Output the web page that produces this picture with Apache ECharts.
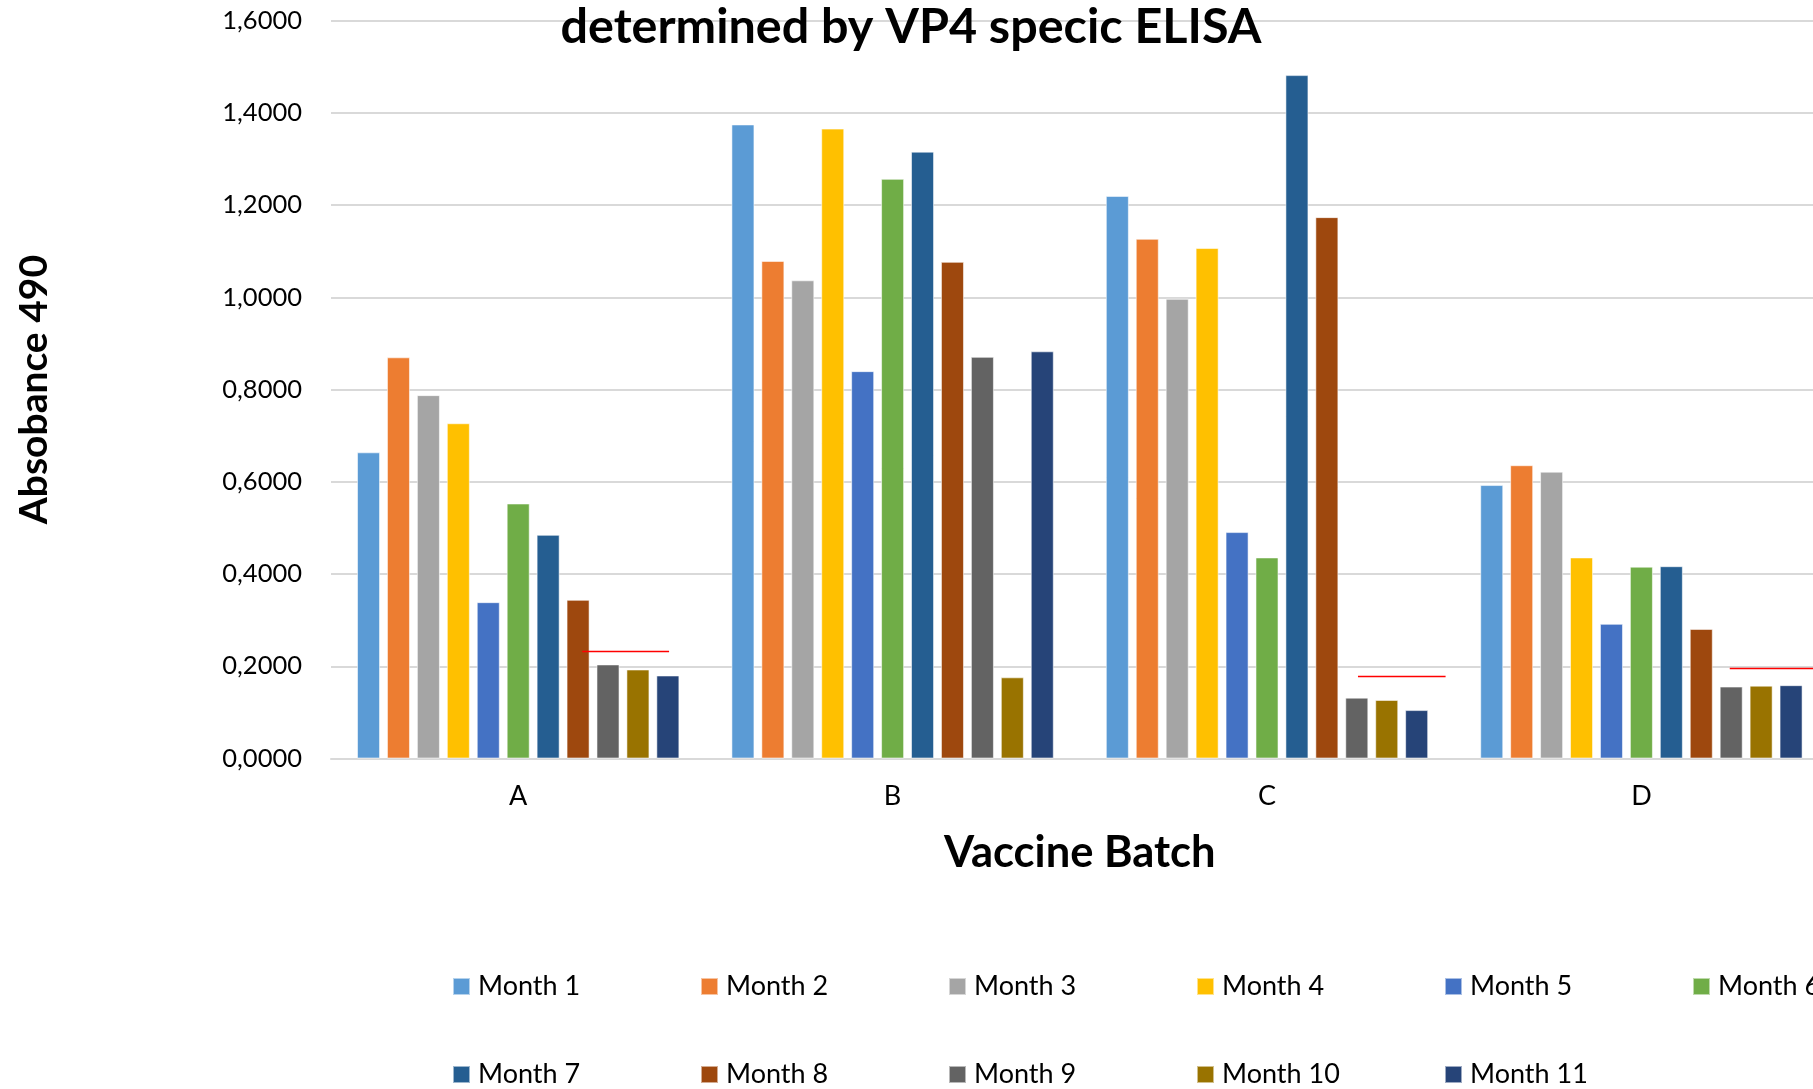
<!DOCTYPE html>
<html>
<head>
<meta charset="utf-8">
<script src="https://cdn.jsdelivr.net/npm/echarts@6/dist/echarts.min.js"></script>
<style>
  html, body { margin: 0; padding: 0; background: #fff; overflow: hidden; }
  #chart { width: 1830px; height: 1089px; }
</style>
</head>
<body>
<div id="chart"></div>
<script>
// Vaccine batches on the x axis
const batches = ['A', 'B', 'C', 'D'];

// Absorbance at 490 nm, one series per month, values per batch A..D
const month1  = [0.664, 1.375, 1.220, 0.593];
const month2  = [0.870, 1.079, 1.127, 0.636];
const month3  = [0.788, 1.037, 0.997, 0.622];
const month4  = [0.727, 1.366, 1.107, 0.436];
const month5  = [0.339, 0.840, 0.491, 0.292];
const month6  = [0.553, 1.257, 0.436, 0.416];
const month7  = [0.485, 1.316, 1.482, 0.417];
const month8  = [0.344, 1.077, 1.174, 0.281];
const month9  = [0.204, 0.871, 0.132, 0.156];
const month10 = [0.193, 0.176, 0.127, 0.158];
const month11 = [0.180, 0.883, 0.105, 0.159];

const seriesNames = ['Month 1', 'Month 2', 'Month 3', 'Month 4', 'Month 5', 'Month 6',
                     'Month 7', 'Month 8', 'Month 9', 'Month 10', 'Month 11'];
const seriesValues = [month1, month2, month3, month4, month5, month6,
                      month7, month8, month9, month10, month11];

// Cut-off level per batch (null = none) and the span it covers, in batch units (A = 0..1)
const cutoffLevel = [0.232, null, 0.178, 0.195];
const cutoffFrom  = [0.671, null, 2.743, 3.736];
const cutoffTo    = [0.903, null, 2.977, 3.970];

// Tick values of the absorbance axis
const yTicks = { min: 0, max: 1.6, step: 0.2 };

const palette = ['#5B9BD5', '#ED7D31', '#A5A5A5', '#FFC000', '#4472C4', '#70AD47',
                 '#255E91', '#9E480E', '#636363', '#997300', '#264478'];

const FONT = 'Lato, "Open Sans", sans-serif';

const barSeries = seriesNames.map((name, i) => ({
  name: name,
  type: 'bar',
  data: seriesValues[i],
  barGap: '30%',
  barCategoryGap: '13.9%',
  itemStyle: { color: palette[i], borderColor: 'rgba(255,255,255,0.55)', borderWidth: 1 }
}));

const cutoffSeries = [];
cutoffLevel.forEach((lvl, i) => {
  if (lvl === null) return;
  cutoffSeries.push({
    type: 'line',
    xAxisIndex: 1,
    yAxisIndex: 0,
    symbol: 'none',
    silent: true,
    lineStyle: { color: '#FF0000', width: 1.5 },
    data: [[cutoffFrom[i], lvl], [cutoffTo[i], lvl]]
  });
});

// Legend laid out as a fixed-pitch table: six entries per row
const LEGEND_COLS = 6;
const legends = seriesNames.map((name, i) => ({
  data: [name],
  orient: 'horizontal',
  left: 452 + (i % LEGEND_COLS) * 248,
  top: i < LEGEND_COLS ? 973 : 1061,
  padding: 0,
  itemWidth: 17,
  itemHeight: 17,
  icon: 'rect',
  textStyle: { fontFamily: FONT, fontSize: 27, color: '#000', padding: [0, 0, 0, 3] }
}));

const option = {
  backgroundColor: '#fff',
  animation: false,
  color: palette,
  title: {
    text: 'determined by VP4 specic ELISA',
    left: 906,
    textAlign: 'center',
    top: -2,
    textStyle: { fontFamily: FONT, fontSize: 48.5, fontWeight: 'bold', color: '#000' }
  },
  legend: legends,
  grid: { left: 331, top: 20.7, width: 1497.6, height: 737.8, containLabel: false },
  xAxis: [
    {
      type: 'category',
      data: batches,
      name: 'Vaccine Batch',
      nameLocation: 'middle',
      nameGap: 72,
      nameTextStyle: { fontFamily: FONT, fontSize: 43.5, fontWeight: 'bold', color: '#000' },
      axisLine: { show: true, lineStyle: { color: '#D9D9D9', width: 2 } },
      axisTick: { show: false },
      axisLabel: { fontFamily: FONT, fontSize: 27, color: '#000', margin: 24 }
    },
    {
      type: 'value',
      min: 0,
      max: batches.length,
      show: false
    }
  ],
  yAxis: {
    type: 'value',
    min: yTicks.min,
    max: yTicks.max,
    interval: yTicks.step,
    name: 'Absobance 490',
    nameLocation: 'middle',
    nameGap: 277,
    nameRotate: 90,
    nameTextStyle: { fontFamily: FONT, fontSize: 39, fontWeight: 'bold', color: '#000' },
    axisLine: { show: false },
    axisTick: { show: false },
    splitLine: { lineStyle: { color: '#D9D9D9', width: 2 } },
    axisLabel: {
      fontFamily: FONT, fontSize: 25.5, color: '#000', margin: 29,
      formatter: v => v.toFixed(4).replace('.', ',')
    }
  },
  series: barSeries.concat(cutoffSeries)
};

const chart = echarts.init(document.getElementById('chart'), null, { renderer: 'canvas' });
chart.setOption(option);
</script>
</body>
</html>
